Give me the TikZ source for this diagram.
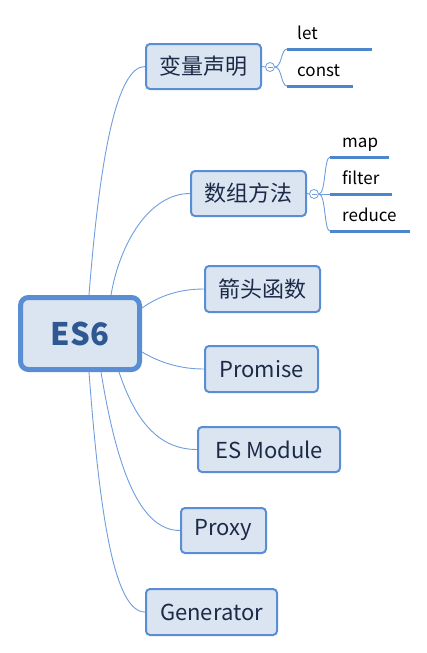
\documentclass[tikz,border=0pt]{standalone}
\usepackage{fontspec}
\setmainfont{Noto Sans CJK SC}
\usetikzlibrary{calc,backgrounds}
\definecolor{boxf}{HTML}{DBE5F2}
\definecolor{boxd}{HTML}{5A8ED4}
\definecolor{txt}{HTML}{1C2A47}
\definecolor{rtxt}{HTML}{2F5892}
\definecolor{connc}{HTML}{6E9EDF}
\definecolor{ulc}{HTML}{4C87CD}
\begin{document}
\begin{tikzpicture}[x={(1pt,0pt)},y={(0pt,-1pt)},
  rootbox/.style={draw=boxd, line width=5pt, fill=boxf, rounded corners=8pt, minimum width=119pt, minimum height=72pt, inner sep=0pt, text=rtxt, font=\fontsize{31}{36}\selectfont\bfseries},
  childbox/.style={draw=boxd, line width=2pt, fill=boxf, rounded corners=4pt, minimum height=45pt, inner sep=0pt, text=txt, font=\fontsize{22}{26}\selectfont},
  connline/.style={draw=connc, line width=0.9pt},
  leaf/.style={anchor=base west, inner sep=0pt, font=\fontsize{17}{20}\selectfont, text=black},
  uline/.style={draw=ulc, line width=3pt},
  fold/.style={circle, draw=connc, fill=white, line width=0.8pt, minimum size=9pt, inner sep=0pt,
    path picture={\draw[draw=connc, line width=0.8pt] ([xshift=2pt]path picture bounding box.west) -- ([xshift=-2pt]path picture bounding box.east);}}
]
\useasboundingbox (0,0) rectangle (427,653);

% root
\node[rootbox] (root) at (80,333.5) {ES6};

% children
\node[childbox, minimum width=115pt] (var) at (203.5,66.5) {变量声明};
\node[childbox, minimum width=115pt] (arr) at (248.5,193.5) {数组方法};
\node[childbox, minimum width=115pt, minimum height=46pt] (arrow) at (262.5,289) {箭头函数};
\node[childbox, minimum width=113pt, minimum height=46pt] (prom) at (261.5,369) {Promise};
\node[childbox, minimum width=142pt] (esm) at (269,449.5) {ES Module};
\node[childbox, minimum width=85pt] (proxy) at (223.5,530.5) {Proxy};
\node[childbox, minimum width=131pt, minimum height=46pt] (gen) at (211.5,612) {Generator};

% anchor points on root
\coordinate (rt1) at ($(root.north)+(9,0)$);
\coordinate (rt2) at ($(root.north)+(31,0)$);
\coordinate (re1) at ($(root.east)+(0,-25.5)$);
\coordinate (re2) at ($(root.east)+(0,18.5)$);
\coordinate (rb1) at ($(root.south)+(39,0)$);
\coordinate (rb2) at ($(root.south)+(21,0)$);
\coordinate (rb3) at ($(root.south)+(9,0)$);

% fold circles
\node[fold] (f1) at (270,67) {};
\node[fold] (f2) at (314,194) {};

% leaves
\node[leaf] (let) at (297,39) {let};
\node[leaf] (const) at (297,76) {const};
\node[leaf] (map) at (342,147) {map};
\node[leaf] (filter) at (342,184) {filter};
\node[leaf] (reduce) at (342,221) {reduce};

\coordinate (u1a) at (287,49);  \coordinate (u1b) at (372,49);
\coordinate (u2a) at (287,86);  \coordinate (u2b) at (353,86);
\coordinate (u3a) at (330,157); \coordinate (u3b) at (389,157);
\coordinate (u4a) at (330,194); \coordinate (u4b) at (392,194);
\coordinate (u5a) at (330,231); \coordinate (u5b) at (410,231);

\draw[uline] (u1a) -- (u1b);
\draw[uline] (u2a) -- (u2b);
\draw[uline] (u3a) -- (u3b);
\draw[uline] (u4a) -- (u4b);
\draw[uline] (u5a) -- (u5b);

\begin{pgfonlayer}{background}
\draw[connline] (rt1) .. controls +(11,-140) and +(-28,0) .. (var.west);
\draw[connline] (rt2) .. controls +(9,-53) and +(-40,0) .. (arr.west);
\draw[connline] (re1) .. controls +(17,-12) and +(-25,0) .. (arrow.west);
\draw[connline] (re2) .. controls +(17,10) and +(-25,0) .. (prom.west);
\draw[connline] (rb1) .. controls +(16,48) and +(-39,0) .. (esm.west);
\draw[connline] (rb2) .. controls +(16,98) and +(-40,0) .. (proxy.west);
\draw[connline] (rb3) .. controls +(11,148) and +(-30,0) .. (gen.west);

\draw[connline] (var.east) -- (f1.west);
\draw[connline] (arr.east) -- (f2.west);
\draw[connline] (f1.east) .. controls +(7,0) and +(-6,0) .. (u1a);
\draw[connline] (f1.east) .. controls +(7,0) and +(-6,0) .. (u2a);
\draw[connline] (f2.east) .. controls +(7,0) and +(-6,0) .. (u3a);
\draw[connline] (f2.east) -- (u4a);
\draw[connline] (f2.east) .. controls +(7,0) and +(-6,0) .. (u5a);
\end{pgfonlayer}
\end{tikzpicture}
\end{document}
